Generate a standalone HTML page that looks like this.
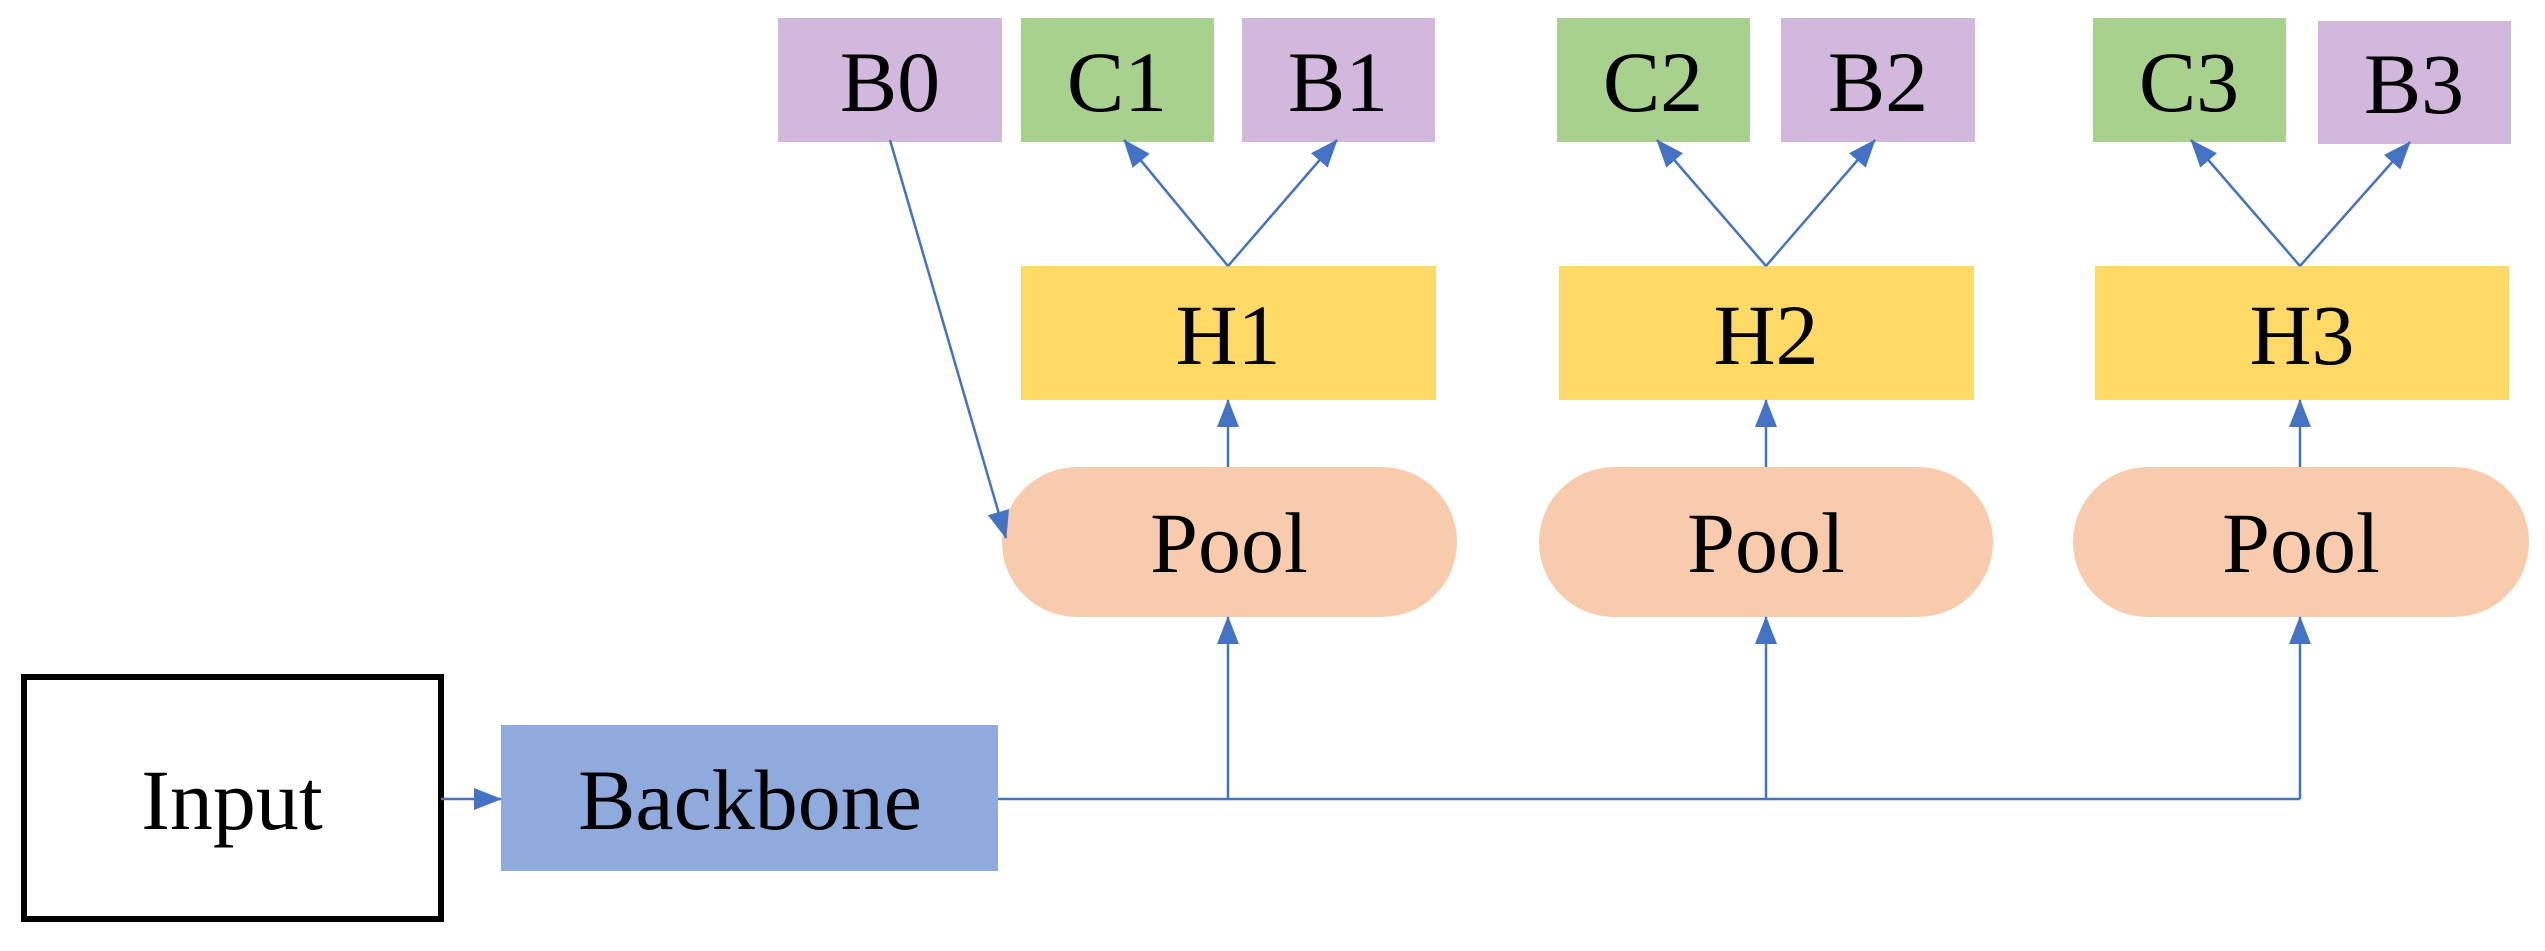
<!DOCTYPE html>
<html><head><meta charset="utf-8"><style>
html,body{margin:0;padding:0;background:#fff;}
svg{display:block;}
text{font-family:"Liberation Serif",serif;font-size:86px;fill:#000;text-anchor:middle;dominant-baseline:central;}
</style></head><body>
<svg width="2545" height="951" viewBox="0 0 2545 951" xmlns="http://www.w3.org/2000/svg">
<defs>
<marker id="a" markerWidth="28" markerHeight="22" refX="27" refY="11" orient="auto" markerUnits="userSpaceOnUse">
<path d="M0,0 L28,11 L0,22 Z" fill="#4472C4"/>
</marker>
</defs>
<!-- boxes -->
<rect x="24" y="677" width="417" height="242" fill="#fff" stroke="#000" stroke-width="6"/>
<text x="232" y="800">Input</text>
<rect x="501" y="725" width="497" height="146" fill="#8FAADC"/>
<text x="750" y="800">Backbone</text>

<rect x="778" y="18" width="224" height="124" fill="#D3B8DD"/><text x="890" y="82">B0</text>
<rect x="1021" y="18" width="193" height="124" fill="#A9D18E"/><text x="1117" y="82">C1</text>
<rect x="1242" y="18" width="193" height="124" fill="#D3B8DD"/><text x="1338" y="82">B1</text>
<rect x="1557" y="18" width="193" height="124" fill="#A9D18E"/><text x="1653" y="82">C2</text>
<rect x="1781" y="18" width="194" height="124" fill="#D3B8DD"/><text x="1878" y="82">B2</text>
<rect x="2093" y="18" width="193" height="124" fill="#A9D18E"/><text x="2189" y="82">C3</text>
<rect x="2318" y="21" width="193" height="123" fill="#D3B8DD"/><text x="2414" y="84">B3</text>

<rect x="1021" y="266" width="415" height="134" fill="#FFD966"/><text x="1228" y="335">H1</text>
<rect x="1559" y="266" width="415" height="134" fill="#FFD966"/><text x="1766" y="335">H2</text>
<rect x="2095" y="266" width="414" height="134" fill="#FFD966"/><text x="2302" y="335">H3</text>

<rect x="1002" y="467" width="455" height="150" rx="75" fill="#F8CBAD"/><text x="1229" y="543">Pool</text>
<rect x="1539" y="467" width="454" height="150" rx="75" fill="#F8CBAD"/><text x="1766" y="543">Pool</text>
<rect x="2073" y="467" width="456" height="150" rx="75" fill="#F8CBAD"/><text x="2301" y="543">Pool</text>

<!-- connectors -->
<g stroke="#4472C4" stroke-width="2.5" fill="none">
<line x1="441" y1="799" x2="501" y2="799" marker-end="url(#a)"/>
<polyline points="998,799 2300,799"/>
<line x1="1228" y1="799" x2="1228" y2="617" marker-end="url(#a)"/>
<line x1="1766" y1="799" x2="1766" y2="617" marker-end="url(#a)"/>
<line x1="2300" y1="799" x2="2300" y2="617" marker-end="url(#a)"/>
<line x1="1228" y1="467" x2="1228" y2="400" marker-end="url(#a)"/>
<line x1="1766" y1="467" x2="1766" y2="400" marker-end="url(#a)"/>
<line x1="2300" y1="467" x2="2300" y2="400" marker-end="url(#a)"/>
<line x1="1228" y1="266" x2="1124" y2="140" marker-end="url(#a)"/>
<line x1="1228" y1="266" x2="1337" y2="140" marker-end="url(#a)"/>
<line x1="1766" y1="266" x2="1657" y2="140" marker-end="url(#a)"/>
<line x1="1766" y1="266" x2="1875" y2="140" marker-end="url(#a)"/>
<line x1="2300" y1="266" x2="2191" y2="140" marker-end="url(#a)"/>
<line x1="2300" y1="266" x2="2410" y2="142" marker-end="url(#a)"/>
<line x1="890" y1="140" x2="1006" y2="538" marker-end="url(#a)"/>
</g>
</svg>
</body></html>
